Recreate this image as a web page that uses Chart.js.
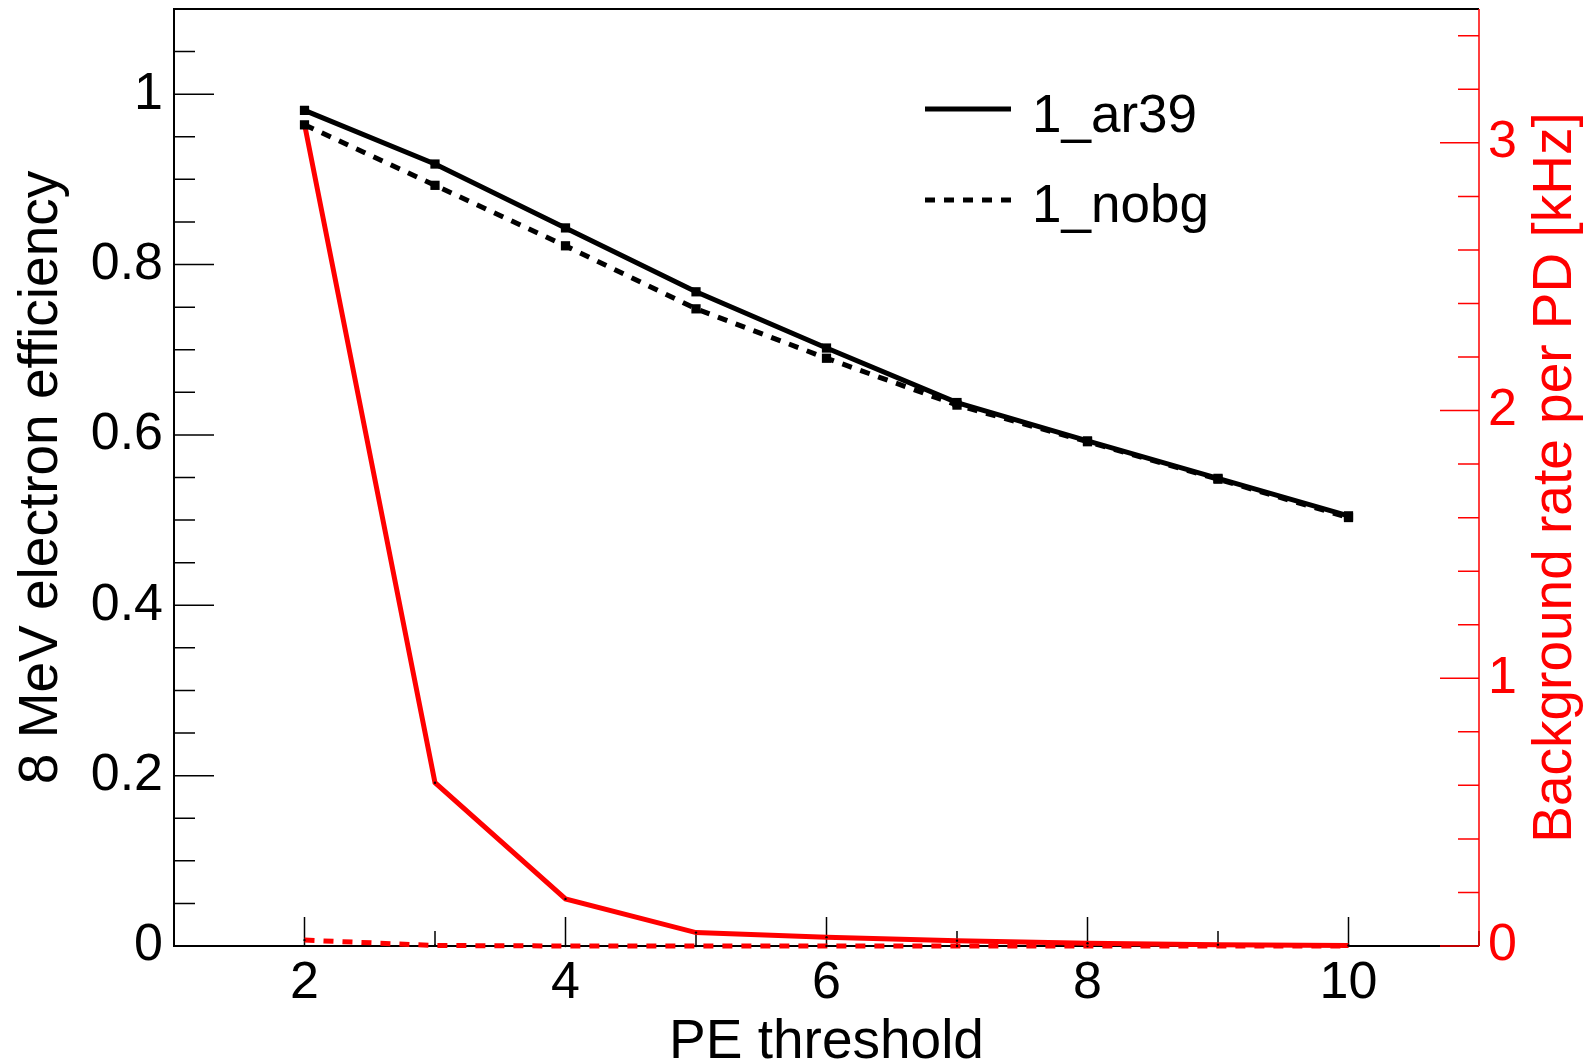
<!DOCTYPE html>
<html>
<head>
<meta charset="utf-8">
<script src="https://cdn.jsdelivr.net/npm/chart.js@4.4.0/dist/chart.umd.min.js"></script>
<style>
  html, body { margin: 0; padding: 0; background: #fff; }
  #wrap { width: 1589px; height: 1064px; }
</style>
</head>
<body>
<div id="wrap"><canvas id="plot"></canvas></div>
<script>
// data
const peThreshold = [2, 3, 4, 5, 6, 7, 8, 9, 10];
const effAr39 = [0.981, 0.918, 0.843, 0.768, 0.702, 0.638, 0.593, 0.549, 0.505];
const effNobg = [0.964, 0.893, 0.822, 0.748, 0.690, 0.635, 0.592, 0.548, 0.503];
const rateAr39 = [3.07, 0.61, 0.176, 0.05, 0.033, 0.02, 0.01, 0.005, 0.002];
const rateNobg = [0.022, 0.002, 0, 0, 0, 0, 0, 0, 0];

const xTicks = [2, 4, 6, 8, 10];
const effTicks = [0, 0.2, 0.4, 0.6, 0.8, 1];
const rateTicks = [0, 1, 2, 3];
const legendNames = ['1_ar39', '1_nobg'];

const FONT = 'Liberation Sans, Arial, Helvetica, sans-serif';
const RED = '#ff0000';

function pts(ys) {
    return peThreshold.map((x, i) => ({ x: x, y: ys[i] }));
}

function minorList(min, max, step) {
    let out = [];
    for (let v = min; v <= max + 1e-9; v += step) out.push(v);
    return out;
}

// no extra room for half labels, the frame is fixed
function noPad(s) {
    s.paddingTop = 0; s.paddingBottom = 0;
    s.paddingLeft = 0; s.paddingRight = 0;
}

// ROOT style frame with inward ticks
const frameTicks = {
    id: 'frameTicks',
    beforeDatasetsDraw(chart) {
        const { ctx, chartArea: a, scales } = chart;
        const x = scales.x, y = scales.y;
        ctx.save();
        ctx.strokeStyle = '#000';
        ctx.lineWidth = 2;
        ctx.beginPath();
        ctx.moveTo(a.right, a.top);
        ctx.lineTo(a.left, a.top);
        ctx.lineTo(a.left, a.bottom);
        ctx.lineTo(a.right, a.bottom);
        ctx.stroke();

        ctx.lineWidth = 1.5;
        ctx.beginPath();
        minorList(1, 11, 1).forEach(v => {
            const px = x.getPixelForValue(v);
            const len = xTicks.includes(v) ? 29 : 15;
            ctx.moveTo(px, a.bottom);
            ctx.lineTo(px, a.bottom - len);
        });
        minorList(0, 1.1, 0.05).forEach((v, i) => {
            const py = y.getPixelForValue(v);
            const len = i % 4 === 0 ? 40 : 21;
            ctx.moveTo(a.left, py);
            ctx.lineTo(a.left + len, py);
        });
        ctx.stroke();
        ctx.restore();
    },
    afterDatasetsDraw(chart) {
        const { ctx, chartArea: a, scales } = chart;
        const y2 = scales.y2;
        ctx.save();
        ctx.strokeStyle = RED;
        ctx.lineWidth = 1.5;
        ctx.beginPath();
        ctx.moveTo(a.right, a.top);
        ctx.lineTo(a.right, a.bottom);
        minorList(0, 3.4, 0.2).forEach((v, i) => {
            const py = y2.getPixelForValue(v);
            const len = i % 5 === 0 ? 39 : 21;
            ctx.moveTo(a.right, py);
            ctx.lineTo(a.right - len, py);
        });
        ctx.stroke();

        // right axis title, reads bottom to top like the left one
        ctx.fillStyle = RED;
        ctx.font = '55px ' + FONT;
        ctx.textAlign = 'center';
        ctx.textBaseline = 'middle';
        ctx.translate(1556, (a.top + a.bottom) / 2);
        ctx.rotate(-Math.PI / 2);
        ctx.fillText('Background rate per PD [kHz]', 0, 0);
        ctx.restore();

        // legend (black graphs only)
        ctx.save();
        ctx.font = '53px ' + FONT;
        ctx.fillStyle = '#000';
        ctx.textAlign = 'left';
        ctx.textBaseline = 'alphabetic';
        const rows = [{ y: 109, base: 132 }, { y: 200, base: 222 }];
        rows.forEach((r, i) => {
            const ds = chart.data.datasets[i];
            ctx.strokeStyle = ds.borderColor;
            ctx.lineWidth = ds.borderWidth;
            ctx.setLineDash(ds.borderDash || []);
            ctx.beginPath();
            ctx.moveTo(925, r.y);
            ctx.lineTo(1011, r.y);
            ctx.stroke();
            ctx.fillText(legendNames[i], 1032, r.base);
        });
        ctx.restore();
    }
};

const ctx = document.getElementById('plot').getContext('2d');
const chart = new Chart(ctx, {
    type: 'line',
    data: {
        datasets: [
            {
                label: '1_ar39', data: pts(effAr39), yAxisID: 'y',
                borderColor: '#000', backgroundColor: '#000', borderWidth: 5,
                pointStyle: 'rect', pointRadius: 3, clip: false
            },
            {
                label: '1_nobg', data: pts(effNobg), yAxisID: 'y',
                borderColor: '#000', backgroundColor: '#000', borderWidth: 5, borderDash: [10, 9],
                pointStyle: 'rect', pointRadius: 3, clip: false
            },
            {
                label: '1_ar39 rate', data: pts(rateAr39), yAxisID: 'y2',
                borderColor: RED, backgroundColor: '#000', borderWidth: 5,
                pointRadius: 1.2, pointBorderWidth: 0, clip: false
            },
            {
                label: '1_nobg rate', data: pts(rateNobg), yAxisID: 'y2',
                borderColor: RED, backgroundColor: '#000', borderWidth: 5, borderDash: [10, 9],
                pointRadius: 1.2, pointBorderWidth: 0, clip: false
            }
        ]
    },
    options: {
        responsive: true,
        maintainAspectRatio: false,
        animation: false,
        layout: { padding: { top: 8, left: 0, right: 0, bottom: 0 } },
        plugins: { legend: { display: false }, tooltip: { enabled: false } },
        scales: {
            x: {
                type: 'linear', min: 1, max: 11,
                afterBuildTicks: s => { s.ticks = xTicks.map(v => ({ value: v })); },
                afterFit: s => { s.height = 118; noPad(s); },
                grid: { display: false, drawTicks: false },
                border: { display: false },
                ticks: {
                    autoSkip: false, maxRotation: 0, padding: 6,
                    color: '#000', font: { family: FONT, size: 52 },
                    callback: v => String(v)
                },
                title: {
                    display: true, text: 'PE threshold', color: '#000',
                    font: { family: FONT, size: 55, lineHeight: 1 }, padding: { top: 0, bottom: -6 }
                }
            },
            y: {
                type: 'linear', position: 'left', min: 0, max: 1.1,
                afterBuildTicks: s => { s.ticks = effTicks.map(v => ({ value: v })); },
                afterFit: s => { s.width = 174; noPad(s); },
                grid: { display: false, drawTicks: false },
                border: { display: false },
                ticks: {
                    autoSkip: false, padding: 11,
                    color: '#000', font: { family: FONT, size: 52 },
                    callback: v => String(v)
                },
                title: {
                    display: true, text: '8 MeV electron efficiency', color: '#000',
                    font: { family: FONT, size: 55, lineHeight: 1 }, padding: { top: 14, bottom: 0 }
                }
            },
            y2: {
                type: 'linear', position: 'right', min: 0, max: 3.5,
                afterBuildTicks: s => { s.ticks = rateTicks.map(v => ({ value: v })); },
                afterFit: s => { s.width = 110; noPad(s); },
                grid: { display: false, drawTicks: false },
                border: { display: false },
                ticks: {
                    autoSkip: false, padding: 9,
                    color: RED, font: { family: FONT, size: 52 },
                    callback: v => String(v)
                }
            }
        }
    },
    plugins: [frameTicks]
});
</script>
</body>
</html>
